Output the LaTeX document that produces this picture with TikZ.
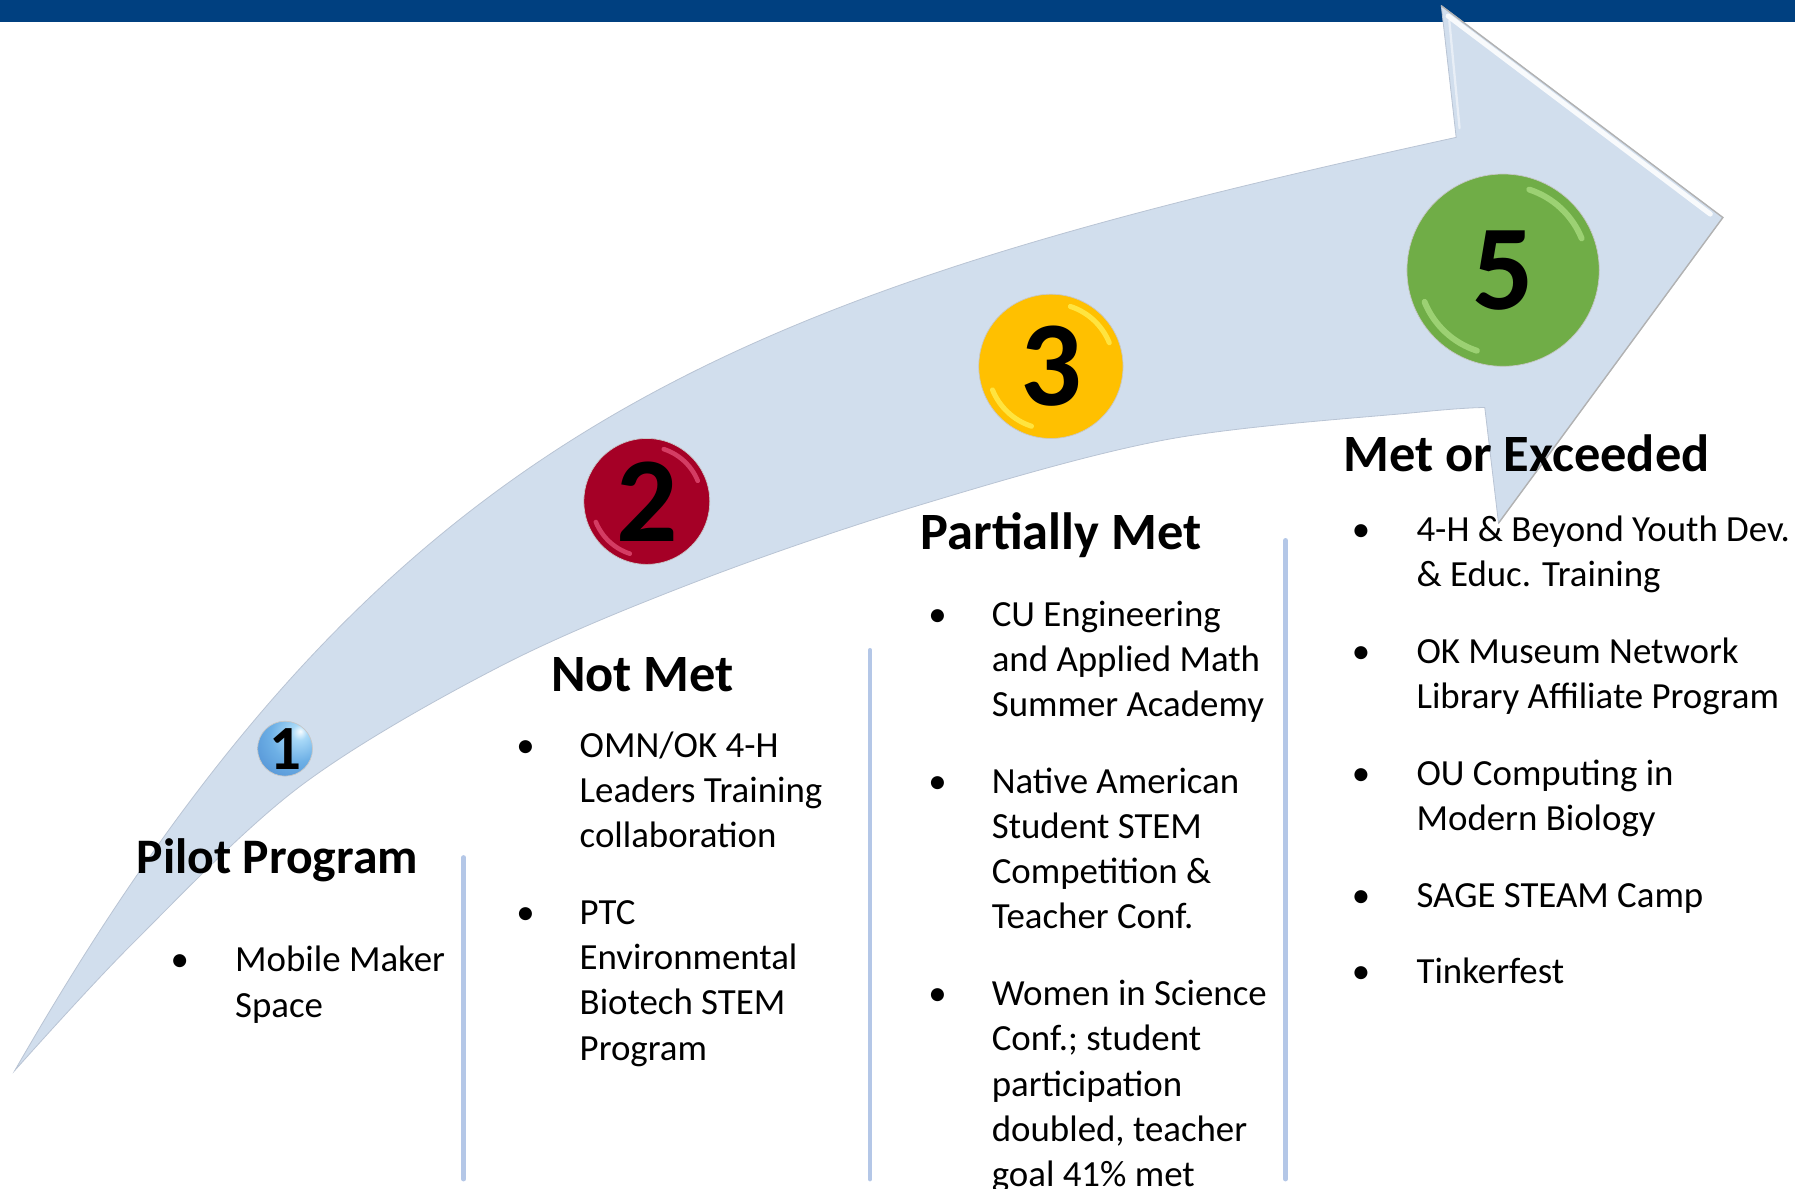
\documentclass[tikz,border=0pt]{standalone}
\usepackage{fontspec}
\setmainfont{Carlito}
\definecolor{hdr}{RGB}{0,64,128}
\definecolor{arrowc}{RGB}{209,222,237}
\definecolor{arrowedge}{RGB}{185,196,212}
\definecolor{sepc}{RGB}{180,199,231}
\definecolor{redtwo}{RGB}{165,0,38}
\definecolor{redhl}{RGB}{232,86,125}
\definecolor{goldthree}{RGB}{255,192,0}
\definecolor{goldhl}{RGB}{255,244,90}
\definecolor{greenfive}{RGB}{112,173,71}
\definecolor{greenhl}{RGB}{175,225,135}
\pgfdeclareradialshading{oneball}{\pgfpoint{14bp}{16bp}}{%
  rgb(0bp)=(0.97,0.99,1);
  rgb(7bp)=(0.66,0.85,0.97);
  rgb(24bp)=(0.43,0.69,0.90);
  rgb(42bp)=(0.33,0.58,0.84);
  rgb(60bp)=(0.36,0.62,0.87);
  rgb(100bp)=(0.36,0.62,0.87)}
\begin{document}
\begin{tikzpicture}[x=0.5pt,y=-0.5pt,
  body/.style={font=\fontsize{16.1}{19.75}\selectfont, inner sep=0pt, anchor=base west},
  bul/.style={font=\fontsize{16.1}{19.75}\selectfont, inner sep=0pt, anchor=base},
  headbig/.style={font=\fontsize{22.9}{27}\selectfont\bfseries, inner sep=0pt, anchor=base west},
  sepline/.style={draw=sepc, line width=2pt, line cap=round},
  numball/.style={circle, inner sep=0pt, text=black, draw=black!22, line width=0.3pt},
  rimhl/.style={line width=#1, line cap=round, opacity=0.7},
]
\useasboundingbox (0,0) rectangle (1568,1038);

% header bar
\fill[hdr] (0,0) rectangle (1568,19);

% curved arrow
\filldraw[fill=arrowc, draw=arrowedge, line width=0.35pt]
  (13,935) .. controls (336.7,371.4) and (636.9,259.1) .. (1272,120)
  -- (1259,5) -- (1505,190) -- (1309,457) -- (1297,356)
  -- plot[smooth, tension=0.55] coordinates {(1297,356) (1240,360) (1019,384) (804,441) (611,507) (437,582) (262,687) (116,824) (13,935)}
  -- cycle;
% bevel of arrow head
\draw[white, line width=2.2pt, opacity=0.85, line cap=round] (1265,14) -- (1494,187);
\draw[white, line width=1pt, opacity=0.5, line cap=round] (1266,18) -- (1275,112);
\draw[black!30, line width=0.6pt] (1259,5) -- (1505,190) -- (1309,457);

% separators
\draw[sepline] (405,749) -- (405,1030);
\draw[sepline] (760,568) -- (760,1030);
\draw[sepline] (1123,472) -- (1123,1030);

% numbered balls
\node[numball, minimum size=24pt, shading=oneball, font=\fontsize{27.5}{30}\selectfont\bfseries] (c1) at (249,654) {1};
\node[numball, minimum size=55pt, fill=redtwo, font=\fontsize{53}{56}\selectfont\bfseries] (c2) at (565,438) {2};
\node[numball, minimum size=63pt, fill=goldthree, font=\fontsize{53}{56}\selectfont\bfseries] (c3) at (918,320) {3};
\node[numball, minimum size=84pt, fill=greenfive, font=\fontsize{53}{56}\selectfont\bfseries] (c5) at (1313,236) {5};

% rim highlights
\draw[rimhl=2pt, redhl] ([shift={(-22:48)}]c2.center) arc[start angle=-22, end angle=-72, radius=48];
\draw[rimhl=2pt, redhl] ([shift={(108:48)}]c2.center) arc[start angle=108, end angle=158, radius=48];
\draw[rimhl=2.2pt, goldhl] ([shift={(-22:55)}]c3.center) arc[start angle=-22, end angle=-72, radius=55];
\draw[rimhl=2.2pt, goldhl] ([shift={(108:55)}]c3.center) arc[start angle=108, end angle=158, radius=55];
\draw[rimhl=2.6pt, greenhl] ([shift={(-22:74)}]c5.center) arc[start angle=-22, end angle=-72, radius=74];
\draw[rimhl=2.6pt, greenhl] ([shift={(108:74)}]c5.center) arc[start angle=108, end angle=158, radius=74];

% Pilot Program
\node[headbig, font=\fontsize{21.7}{26}\selectfont\bfseries] (h1) at (119,763) {Pilot Program};
\node[bul] (b11) at (157,849) {•};
\node[body] (t11) at (205,849) {\parbox[t]{200pt}{\raggedright Mobile Maker\\Space}};

% Not Met
\node[headbig] (h2) at (481,604) {Not Met};
\node[bul] (b21) at (459,661.5) {•};
\node[body] (t21) at (506,661.5) {\parbox[t]{200pt}{\raggedright OMN/OK 4-H\\Leaders Training\\collaboration}};
\node[bul] (b22) at (459,807.5) {•};
\node[body] (t22) at (506,807.5) {\parbox[t]{200pt}{\raggedright PTC\\Environmental\\Biotech STEM\\Program}};

% Partially Met
\node[headbig] (h3) at (804,480) {Partially Met};
\node[bul] (b31) at (819,547) {•};
\node[body] (t31) at (866,547) {\parbox[t]{200pt}{\raggedright CU Engineering\\and Applied Math\\Summer Academy}};
\node[bul] (b32) at (819,693) {•};
\node[body] (t32) at (866,693) {\parbox[t]{200pt}{\raggedright Native American\\Student STEM\\Competition \&\\Teacher Conf.}};
\node[bul] (b33) at (819,878.5) {•};
\node[body] (t33) at (866,878.5) {\parbox[t]{200pt}{\raggedright Women in Science\\Conf.; student\\participation\\doubled, teacher\\goal 41\% met}};

% Met or Exceeded
\node[headbig] (h5) at (1173,412) {Met or Exceeded};
\node[bul] (b51) at (1189,473) {•};
\node[body] (t51) at (1237,473) {\parbox[t]{200pt}{\raggedright 4-H \& Beyond Youth Dev.\\\& Educ. Training}};
\node[bul] (b52) at (1189,579.5) {•};
\node[body] (t52) at (1237,579.5) {\parbox[t]{200pt}{\raggedright OK Museum Network\\Library Affiliate Program}};
\node[bul] (b53) at (1189,686) {•};
\node[body] (t53) at (1237,686) {\parbox[t]{200pt}{\raggedright OU Computing in\\Modern Biology}};
\node[bul] (b54) at (1189,792.5) {•};
\node[body] (t54) at (1237,792.5) {SAGE STEAM Camp};
\node[bul] (b55) at (1189,859.5) {•};
\node[body] (t55) at (1237,859.5) {Tinkerfest};
\end{tikzpicture}
\end{document}
